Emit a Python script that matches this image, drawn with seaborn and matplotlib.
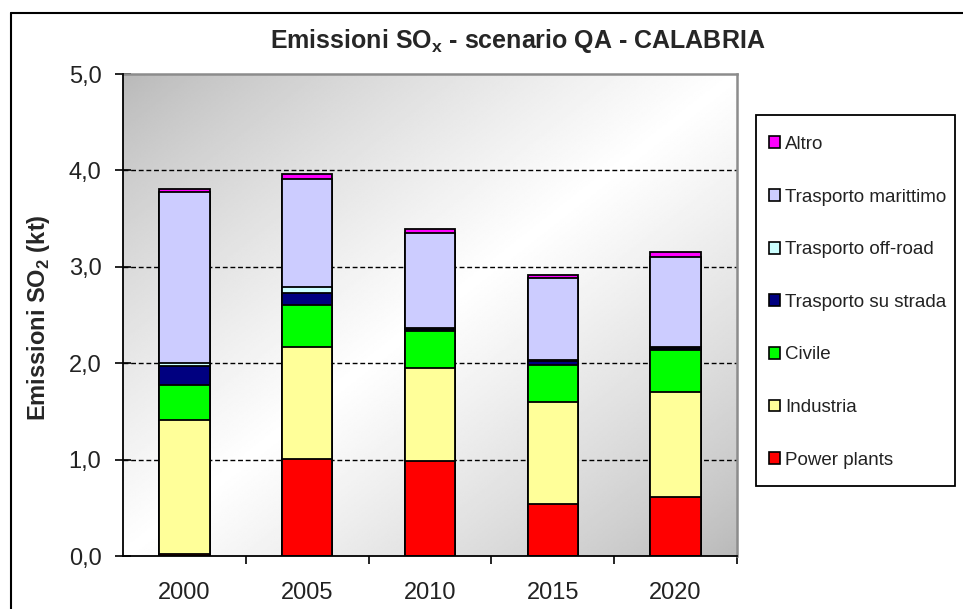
import numpy as np
import pandas as pd
import matplotlib
matplotlib.use("Agg")
import matplotlib.pyplot as plt
import seaborn as sns
from matplotlib.patches import Patch, Rectangle
from matplotlib.lines import Line2D
from matplotlib.ticker import FixedLocator, FuncFormatter

# SOx emissions by sector, kt of SO2
years = ["2000", "2005", "2010", "2015", "2020"]
power_plants = [0.02, 1.01, 0.99, 0.54, 0.61]
industria = [1.39, 1.16, 0.96, 1.06, 1.09]
civile = [0.36, 0.43, 0.38, 0.38, 0.44]
trasporto_strada = [0.20, 0.13, 0.02, 0.04, 0.02]
trasporto_offroad = [0.03, 0.06, 0.01, 0.01, 0.01]
trasporto_marittimo = [1.78, 1.12, 0.99, 0.85, 0.93]
altro = [0.03, 0.05, 0.04, 0.04, 0.05]

sectors = ["Power plants", "Industria", "Civile", "Trasporto su strada",
           "Trasporto off-road", "Trasporto marittimo", "Altro"]
series = [power_plants, industria, civile, trasporto_strada,
          trasporto_offroad, trasporto_marittimo, altro]
colors = ["#FF0000", "#FFFF99", "#00FF00", "#000080",
          "#CCFFFF", "#CCCCFF", "#FF00FF"]

sns.set_theme(style="white")
plt.rcParams["font.family"] = ["Liberation Sans", "DejaVu Sans"]

W, H = 963, 609
fig = plt.figure(figsize=(W / 100, H / 100), dpi=100)
fig.patch.set_facecolor("white")
ax = fig.add_axes([123 / W, 53 / H, 614 / W, 482 / H])

# diagonal grey-white-grey fill of the plotting area
nx, ny = 400, 300
xn = np.linspace(0, 1, nx)[None, :]
yn = np.linspace(0, 1, ny)[:, None]
t = (xn + yn) / 2.0
shade = 1.0 - np.abs(2 * t - 1)
grey = 0.72
img = grey + (1 - grey) * shade ** 0.8
ax.imshow(img, cmap="gray", vmin=0, vmax=1, extent=(-0.5, 4.5, 0, 5),
          origin="upper", aspect="auto", zorder=0, interpolation="bilinear")

# stacked bars: draw cumulative totals from the top sector down
df = pd.DataFrame({"anno": years})
cum = np.zeros(len(years))
cums = []
for vals in series:
    cum = cum + np.array(vals)
    cums.append(cum.copy())
for name, c, col in reversed(list(zip(sectors, cums, colors))):
    df[name] = c
    sns.barplot(data=df, x="anno", y=name, color=col, saturation=1,
                width=0.41, edgecolor="black", linewidth=1.3, ax=ax, zorder=3)

ax.set_xlim(-0.5, 4.5)
ax.set_ylim(0, 5)
ax.set_xlabel("")
ax.set_ylabel("")

# grid
for yv in [1, 2, 3, 4]:
    ax.axhline(yv, color="black", linestyle=(0, (3.5, 2)), linewidth=1.0, zorder=1)

# ticks
ax.yaxis.set_major_locator(FixedLocator([0, 1, 2, 3, 4, 5]))
ax.yaxis.set_major_formatter(FuncFormatter(lambda v, p: f"{v:.1f}".replace(".", ",")))
ax.tick_params(axis="y", which="major", direction="inout", length=11, width=1.2,
               color="black", labelsize=17, pad=10, left=True, labelcolor="#222222")
ax.set_xticks(range(len(years)))
ax.set_xticklabels(years)
ax.tick_params(axis="x", which="major", length=0, labelsize=17, pad=19,
               labelcolor="#222222")
ax.xaxis.set_minor_locator(FixedLocator([0.5, 1.5, 2.5, 3.5, 4.5]))
ax.tick_params(axis="x", which="minor", direction="out", length=6, width=1.2,
               color="black", bottom=True)

for s in ["left", "bottom"]:
    ax.spines[s].set_color("black")
    ax.spines[s].set_linewidth(1.3)
    ax.spines[s].set_zorder(5)
for s in ["top", "right"]:
    ax.spines[s].set_color("#8c8c8c")
    ax.spines[s].set_linewidth(1.8)
    ax.spines[s].set_visible(True)

# titles
fig.text(518 / W, 1 - 41 / H, r"Emissioni SO$_\mathregular{x}$ - scenario QA - CALABRIA",
         ha="center", va="center", fontsize=18, fontweight="bold")
fig.text(39 / W, 1 - 318 / H, r"Emissioni SO$_\mathregular{2}$ (kt)", rotation=90,
         ha="center", va="center", fontsize=17, fontweight="bold")

# legend box
fig.add_artist(Rectangle((756 / W, 1 - 486 / H), 199 / W, 371 / H,
                         transform=fig.transFigure, facecolor="white",
                         edgecolor="black", linewidth=1.3, zorder=1))
handles = [Patch(facecolor=col, edgecolor="black", linewidth=1.2, label=name)
           for name, col in zip(sectors, colors)][::-1]
leg = fig.legend(handles=handles, loc="upper left",
                 bbox_to_anchor=(769 / W, 1 - 136 / H),
                 frameon=False, fontsize=13.5, labelspacing=1.9,
                 handlelength=0.6, handleheight=0.6, handletextpad=0.25,
                 borderpad=0, borderaxespad=0, labelcolor="#222222")
leg.set_zorder(2)

# chart frame
fig.add_artist(Line2D([11 / W, 11 / W], [0, 1 - 13 / H], color="black",
                      linewidth=1.5, transform=fig.transFigure))
fig.add_artist(Line2D([11 / W, 1], [1 - 13 / H, 1 - 13 / H], color="black",
                      linewidth=1.5, transform=fig.transFigure))

fig.savefig("out.png", dpi=100)
